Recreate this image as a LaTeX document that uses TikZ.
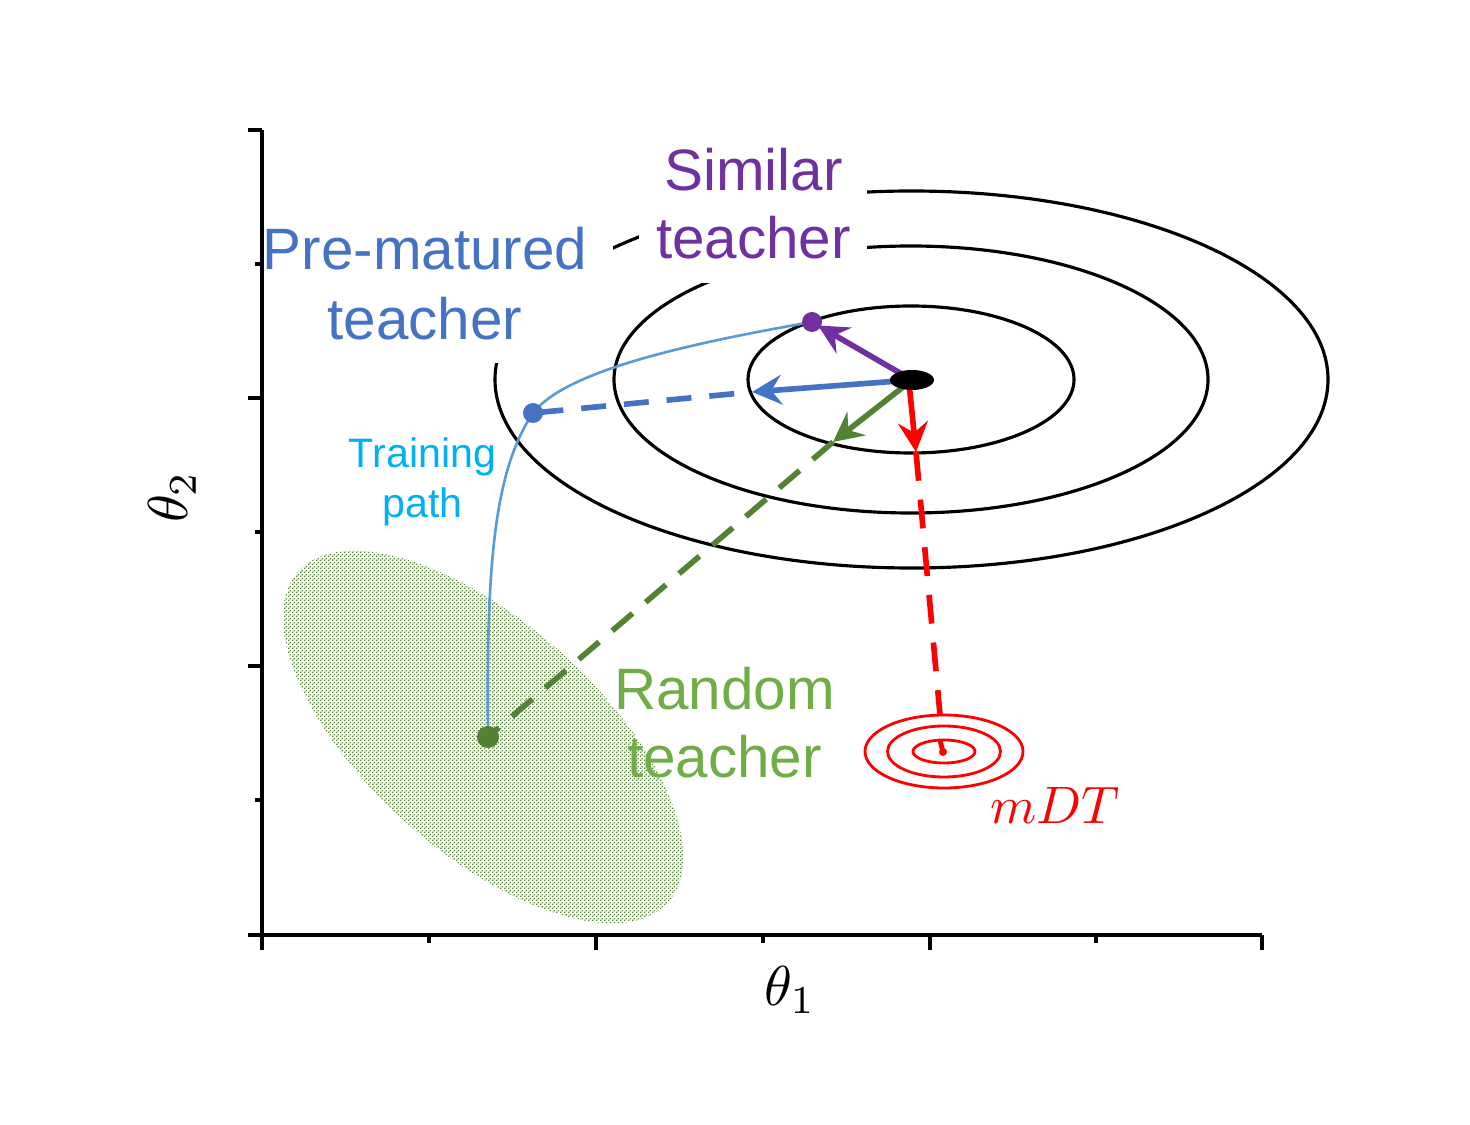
\documentclass[tikz,border=0pt]{standalone}
\usepackage{fontspec}
\setmainfont{Liberation Sans}
\usetikzlibrary{arrows.meta,patterns.meta}
\definecolor{purp}{HTML}{7030A0}
\definecolor{bluA}{HTML}{4472C4}
\definecolor{cyanT}{HTML}{00B0F0}
\definecolor{pathC}{HTML}{5B9BD5}
\definecolor{grnD}{HTML}{548235}
\definecolor{grnT}{HTML}{70AD47}
\definecolor{redC}{HTML}{FF0000}
\tikzdeclarepattern{
  name=finedots,
  type=uncolored,
  bounding box={(0pt,0pt) and (1.138pt,1.138pt)},
  tile size={(1.138pt,1.138pt)},
  code={\fill (0pt,0pt) rectangle (0.45pt,0.45pt);
        \fill (0.569pt,0.569pt) rectangle (1.019pt,1.019pt);}
}
\begin{document}
\begin{tikzpicture}[x=0.01cm,y=-0.01cm,
  axisline/.style={line width=1.1pt,black},
  contour/.style={line width=0.9pt,black},
  mdtring/.style={line width=0.8pt,redC},
  arr/.style={line width=1.6pt,-{Stealth[length=8.5pt,width=8.5pt,inset=3pt]}},
  dashline/.style={line width=1.6pt},
  trainpath/.style={line width=0.75pt,pathC},
  biglbl/.style={font=\fontsize{16.6}{20}\selectfont,anchor=base,inner sep=0pt},
  smalllbl/.style={font=\fontsize{11.7}{14}\selectfont,anchor=base,inner sep=0pt,text=cyanT},
  mathlbl/.style={font=\fontsize{10}{12}\selectfont,inner sep=0pt,scale=1.6}
]
\useasboundingbox (0,0) rectangle (1470,1125);

% key points
\coordinate (C) at (912,380);
\coordinate (P) at (812,322);
\coordinate (B) at (533,413);
\coordinate (G) at (488,737);
\coordinate (Bt) at (752,392);
\coordinate (Gt) at (833,442);
\coordinate (Rs) at (909,383);
\coordinate (Rt) at (916,452);
\coordinate (Re) at (940,715);
\coordinate (Ms) at (940,740);
\coordinate (M) at (943,752);

% green random-teacher region
\fill[pattern=finedots,pattern color=grnD,rotate around={-41.8:(483,737)}]
  (483,737) ellipse [x radius=248, y radius=115];

% loss contours
\draw[contour] (911,379.5) ellipse [x radius=163, y radius=73.5];
\draw[contour] (911,379.5) ellipse [x radius=297, y radius=133.5];
\draw[contour] (911.5,379.5) ellipse [x radius=416.5, y radius=188.5];

% white label backgrounds
\fill[white] (264,195) rectangle (613,363);
\fill[white] (639,130) rectangle (867,283);

% axes
\draw[axisline] (262,130) -- (262,935) -- (1262,935);
\foreach \yy in {130,398,666,935} \draw[axisline] (248,\yy) -- (262,\yy);
\foreach \yy in {264,532,800} \draw[axisline] (255,\yy) -- (262,\yy);
\foreach \xx in {262,596,930,1262} \draw[axisline] (\xx,935) -- (\xx,950);
\foreach \xx in {429,763,1096} \draw[axisline] (\xx,935) -- (\xx,943);

% training path
\draw[trainpath] (G) .. controls (486,560) and (495,470) .. (B)
  .. controls (565,372) and (680,345) .. (P);

% dashed continuations
\draw[dashline,bluA,dash pattern=on 7.1pt off 5.1pt,dash phase=7.1pt] (Bt) -- (B);
\draw[dashline,grnD,dash pattern=on 7.6pt off 4.9pt] (Gt) -- (G);
\draw[dashline,redC,dash pattern=on 8.2pt off 5.4pt] (Rt) -- (Re);

% solid arrows
\draw[arr,purp,shorten >=2pt] (C) -- (P);
\draw[arr,bluA] (C) -- (Bt);
\draw[arr,grnD] (C) -- (Gt);
\draw[arr,redC] (Rs) -- (Rt);

% dots
\fill[black] (C) ellipse [x radius=22, y radius=10];
\fill[purp] (P) circle [radius=10];
\fill[bluA] (B) circle [radius=10];
\fill[grnD] (G) circle [radius=11];

% mDT target
\draw[mdtring] (944,751.5) ellipse [x radius=79, y radius=36.5];
\draw[mdtring] (944,751.5) ellipse [x radius=56.5, y radius=25.5];
\draw[mdtring] (944,751.5) ellipse [x radius=31, y radius=11.5];
\draw[line width=1.4pt,redC] (Ms) -- (M);
\fill[redC] (M) circle [radius=4];

% labels
\node[biglbl,text=purp] (sim1) at (753.5,191) {Similar};
\node[biglbl,text=purp] (sim2) at (753.5,259) {teacher};
\node[biglbl,text=bluA] (pre1) at (425,270) {Pre-matured};
\node[biglbl,text=bluA] (pre2) at (425,340) {teacher};
\node[smalllbl] (tr1) at (422.5,468) {Training};
\node[smalllbl] (tr2) at (422.5,518) {path};
\node[biglbl,text=grnT] (rnd1) at (724.5,709) {Random};
\node[biglbl,text=grnT] (rnd2) at (724.5,777) {teacher};
\node[inner sep=0pt,anchor=base,text=redC,font=\fontsize{10}{12}\selectfont,scale=1.5] (mdt) at (1055,823) {$mDT$};
\node[mathlbl] (th1) at (790,990) {$\theta_1$};
\node[mathlbl,rotate=90] (th2) at (172,497) {$\theta_2$};
\end{tikzpicture}
\end{document}
